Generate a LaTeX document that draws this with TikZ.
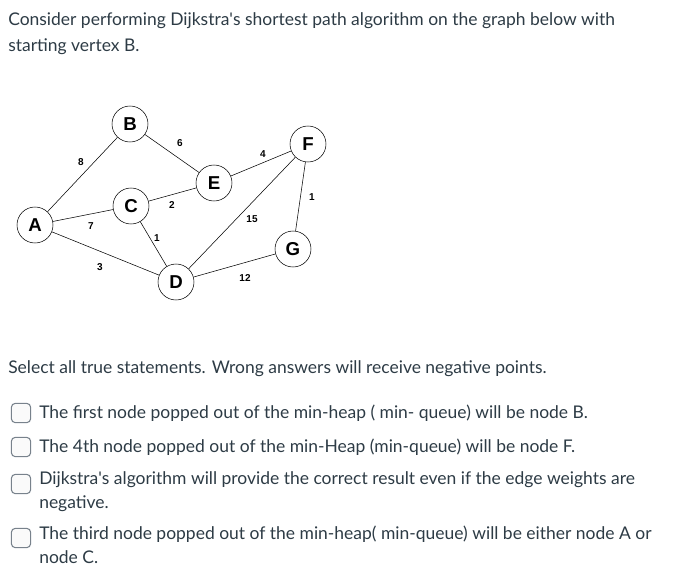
\documentclass[tikz,border=0pt]{standalone}
\usepackage{fontspec}
\setmainfont{Lato}
\newfontfamily\graphfont{Liberation Sans}
\definecolor{canvastext}{RGB}{45,59,69}
\definecolor{boxline}{RGB}{120,130,140}

\begin{document}
\begin{tikzpicture}[
      x=0.75pt, y=-0.75pt,
      every node/.style={inner sep=0pt},
      txt/.style={anchor=base west, text=canvastext, font=\fontsize{13.1pt}{15pt}\selectfont},
      vert/.style={draw, circle, thin, minimum size=27pt, font=\graphfont\bfseries\fontsize{14pt}{14pt}\selectfont},
      wt/.style={font=\graphfont\bfseries\fontsize{7.5pt}{8pt}\selectfont},
      tick/.style={draw=boxline, fill=gray!4, rounded corners=3pt, minimum size=14.5pt, line width=0.8pt},
      edge/.style={draw, thin}
    ]
      \useasboundingbox (0,0) rectangle (691,578);

      % question
      \node[txt] (q1) at (8,26) {Consider performing Dijkstra\textquotesingle s shortest path algorithm on the graph below with};
      \node[txt] (q2) at (8,51) {starting vertex B.};

      % graph
      \node[vert] (A) at (35,225) {A};
      \node[vert] (B) at (130,124) {B};
      \node[vert] (C) at (131,206) {C};
      \node[vert] (E) at (214,183) {E};
      \node[vert] (F) at (308,144) {F};
      \node[vert] (G) at (293,249) {G};
      \node[vert] (D) at (176,282) {D};

      \draw[edge] (A) -- (B);
      \draw[edge] (A) -- (C);
      \draw[edge] (A) -- (D);
      \draw[edge] (B) -- (E);
      \draw[edge] (C) -- (E);
      \draw[edge] (C) -- (D);
      \draw[edge] (E) -- (F);
      \draw[edge] (D) -- (F);
      \draw[edge] (F) -- (G);
      \draw[edge] (D) -- (G);

      \node[wt] (wAB) at (81,162) {8};
      \node[wt] (wAC) at (91,226) {7};
      \node[wt] (wAD) at (100,267) {3};
      \node[wt] (wBE) at (180,143) {6};
      \node[wt] (wCE) at (172,205) {2};
      \node[wt] (wCD) at (157,238) {1};
      \node[wt] (wEF) at (263,154) {4};
      \node[wt] (wDF) at (252,219) {15};
      \node[wt] (wFG) at (312,197) {1};
      \node[wt] (wDG) at (245,278) {12};

      % answers
      \node[txt] (sel) at (8,373) {Select all true statements. Wrong answers will receive negative points.};

      \node[tick] (b1) at (21,413) {};
      \node[txt] (o1) at (39,418) {The first node popped out of the min-heap ( min- queue) will be node B.};
      \node[tick] (b2) at (21,447) {};
      \node[txt] (o2) at (39,452) {The 4th node popped out of the min-Heap (min-queue) will be node F.};
      \node[tick] (b3) at (21,484) {};
      \node[txt] (o3) at (39,484) {Dijkstra\textquotesingle s algorithm will provide the correct result even if the edge weights are};
      \node[txt] (o3b) at (39,508) {negative.};
      \node[tick] (b4) at (21,538) {};
      \node[txt] (o4) at (39,539) {The third node popped out of the min-heap( min-queue) will be either node A or};
      \node[txt] (o4b) at (39,563) {node C.};
    \end{tikzpicture}
\end{document}
